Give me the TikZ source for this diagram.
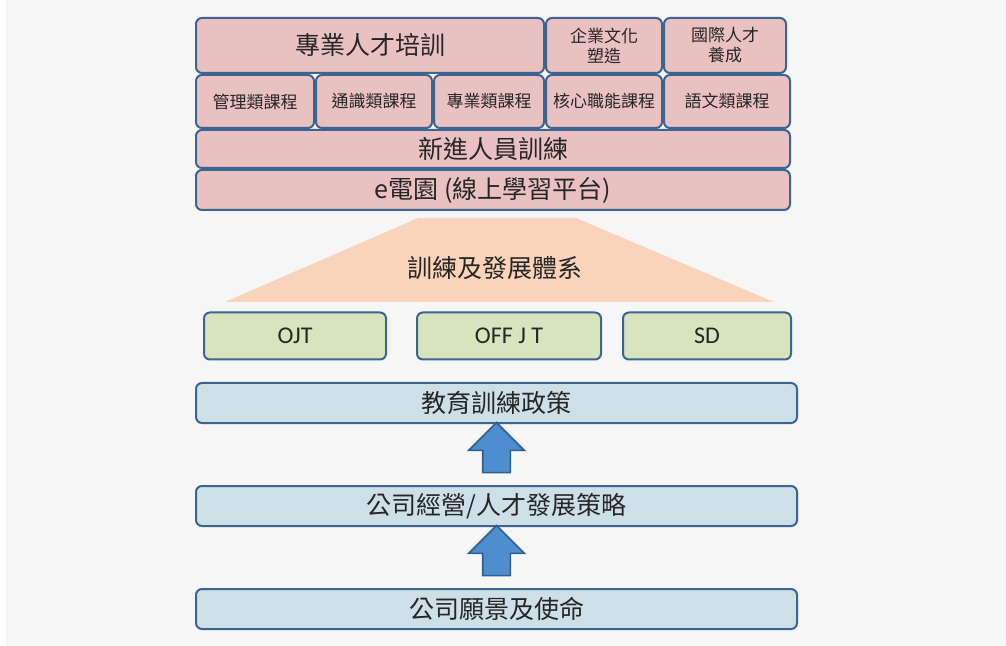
\documentclass[tikz,border=0pt]{standalone}
\usepackage{fontspec}
\setmainfont{Noto Sans CJK TC}
\newfontfamily\latinfont{Carlito}
\usepackage{xcolor}
\usetikzlibrary{
  shapes.arrows,
  positioning,
  calc
}
\definecolor{pagebg}{RGB}{246, 246, 246}
\definecolor{frameblue}{RGB}{60, 100, 145}
\definecolor{pinkbg}{RGB}{234, 193, 193}
\definecolor{greenbg}{RGB}{215, 228, 189}
\definecolor{policybg}{RGB}{205, 223, 231}
\definecolor{peach}{RGB}{250, 212, 186}
\definecolor{arrowblue}{RGB}{78, 142, 206}
\definecolor{arrowedge}{RGB}{46, 95, 145}
\definecolor{inkgray}{RGB}{38, 38, 38}
\tikzset{
  tile/.style = {
    rectangle, rounded corners=3pt,
    draw=frameblue, line width=1pt,
    fill=#1, inner sep=0pt, align=center,
    text=inkgray, font=\fontsize{12.5}{14}\selectfont
  },
  tile/.default = pinkbg,
  course/.style = {
    tile, minimum height=26.5pt,
    font=\fontsize{8.5}{10}\selectfont
  },
  topbox/.style = {
    tile, minimum height=27.5pt
  },
  layer/.style = {
    tile, minimum width=297pt, minimum height=#1
  },
  mode/.style = {
    tile=greenbg, minimum height=23.5pt,
    font=\latinfont\fontsize{12}{14}\selectfont
  },
  base/.style = {
    tile=policybg, minimum width=300.5pt, minimum height=20pt
  },
  uparrow/.style = {
    single arrow, shape border rotate=90,
    draw=arrowedge, line width=0.8pt, fill=arrowblue,
    inner sep=6.5pt, single arrow head extend=7pt,
    minimum height=25pt
  },
}

\begin{document}
\begin{tikzpicture}[x=0.5pt, y=-0.5pt]

  % page
  \fill[white] (0,0) rectangle (1006,646);
  \fill[pagebg] (6,0) rectangle (1006,646);
  \useasboundingbox (0,0) rectangle (1006,646);

  % training system (top stack)
  \node[layer=20pt] (elearn) at (493,190) {e電園 (線上學習平台)};
  \node[layer=19pt, above=0pt of elearn] (newhire) {新進人員訓練};

  \node[course, minimum width=59pt, above right=0pt and 0pt of newhire.north west,
        anchor=south west] (mgmt) {管理類課程};
  \node[course, minimum width=58pt, right=0pt of mgmt] (general) {通識類課程};
  \node[course, minimum width=55pt, right=0pt of general] (prof) {專業類課程};
  \node[course, minimum width=58pt, right=0pt of prof] (core) {核心職能課程};
  \node[course, minimum width=63pt, right=0pt of core] (lang) {語文類課程};

  \node[topbox, minimum width=174pt, above right=0pt and 0pt of mgmt.north west,
        anchor=south west] (talent) {專業人才培訓};
  \node[topbox, minimum width=58pt, above right=0pt and 0pt of core.north west,
        anchor=south west, font=\fontsize{8.5}{10}\selectfont] (culture)
    {企業文化\\塑造};
  \node[topbox, minimum width=61pt, above right=0pt and 0pt of lang.north west,
        anchor=south west, font=\fontsize{8.5}{10}\selectfont] (global)
    {國際人才\\養成};

  % pyramid
  \fill[peach] (418,218) -- (576,218) -- (774,302) -- (225,302) -- cycle;
  \node[text=inkgray, font=\fontsize{12.5}{14}\selectfont] (system) at (495,268)
    {訓練及發展體系};

  % OJT / OFF JT / SD
  \node[mode, minimum width=91pt] (ojt) at (295,336) {OJT};
  \node[mode, minimum width=92pt] (offjt) at (509,336) {OFF J T};
  \node[mode, minimum width=84pt] (sd) at (707,336) {SD};

  % foundations
  \node[base] (policy) at (496.5,403) {教育訓練政策};
  \node[base] (strategy) at (496.5,506) {公司經營/人才發展策略};
  \node[base] (vision) at (496.5,609) {公司願景及使命};

  %% Arrows
  \node[uparrow] (up1) at ($(strategy.north)!0.5!(policy.south)$) {};
  \node[uparrow] (up2) at ($(vision.north)!0.5!(strategy.south)$) {};

\end{tikzpicture}
\end{document}
